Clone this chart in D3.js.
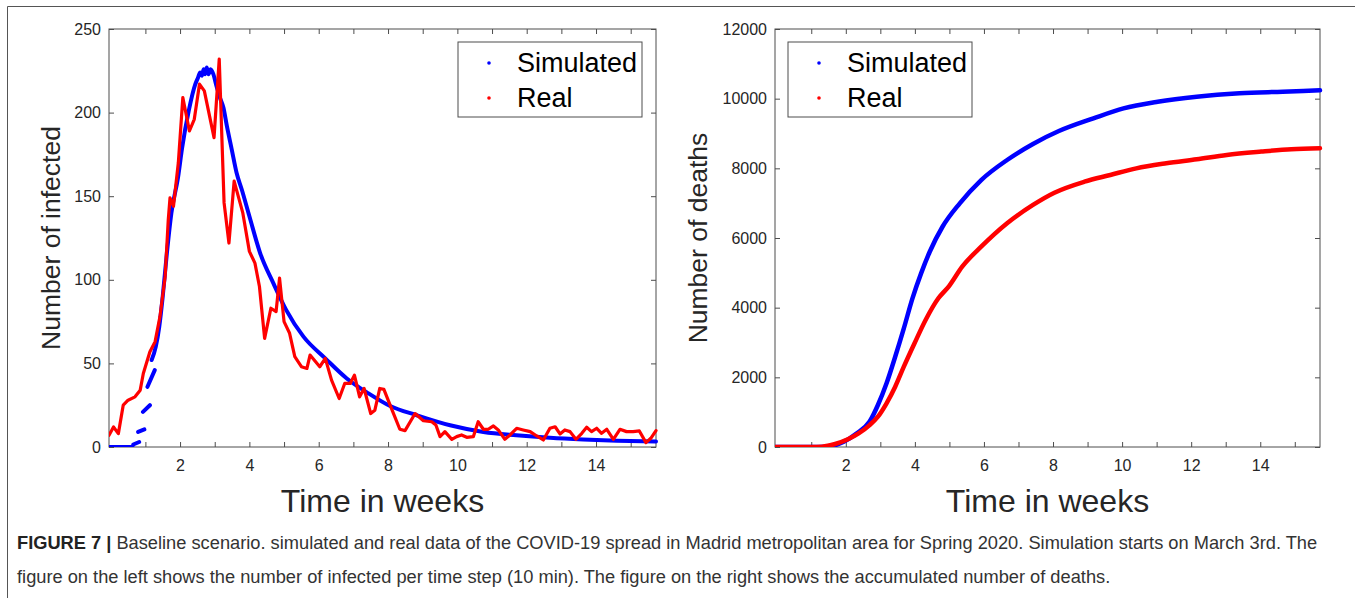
<!DOCTYPE html>
<html><head><meta charset="utf-8">
<script src="https://cdn.jsdelivr.net/npm/d3@7"></script>
<style>
html,body{margin:0;padding:0;background:#fff;}
svg{display:block;}
</style></head>
<body>
<svg id="fig" width="1355" height="598"></svg>
<script>
// ---------------- DATA ----------------
const xTicks = [1,2,3,4,5,6,7,8,9,10,11,12,13,14,15];
const xTickLabels = ["","2","","4","","6","","8","","10","","12","","14",""];
const infYTicks = [0,50,100,150,200,250];
const deathYTicks = [0,2000,4000,6000,8000,10000,12000];
const seriesNames = ["Simulated","Real"];

// Left: number of infected (simulated, null = gap between marker runs)
const infSim = [[-0.05,0],[0.63,0],null,[0.65,1.5],[0.82,3],null,[0.79,9],[0.97,10.5],null,
 [0.93,21],[1.13,25],null,[1.06,36],[1.27,46],null,
 [1.18,52],[1.3,60],[1.4,72],[1.5,90],[1.62,116],[1.75,140],[1.94,161],[2.06,179],[2.25,201],
 [2.44,217],[2.52,221],[2.58,224],[2.63,222],[2.68,226],[2.72,223],[2.77,227],[2.82,223],
 [2.88,226],[2.96,223],[3.05,216],[3.15,209],[3.25,203],[3.35,192],[3.49,178],[3.63,164],
 [3.78,154],[4.0,138],[4.31,116],[4.69,98],[5.06,82],[5.56,66],[6.19,53],[6.81,41],[7.44,32],
 [8.06,24.5],[8.83,19],[9.79,13],[10.75,9],[11.7,7],[12.67,5.5],[13.63,4.5],[14.6,3.8],[15.73,3.3]];

// Left: number of infected (real)
const infReal = [[-0.05,7],[0.08,12],[0.22,8],[0.36,25],[0.5,28],[0.7,30],[0.85,34],[0.94,44],
 [1.13,57],[1.28,63],[1.42,78],[1.57,102],[1.66,136],[1.71,149],[1.81,144],[1.95,170],[2.08,209],
 [2.27,189],[2.41,196],[2.56,217],[2.7,213],[2.98,185],[3.13,232],[3.27,146],[3.41,122],[3.56,159],
 [3.81,140],[4.0,117],[4.16,110],[4.29,96],[4.44,65],[4.62,83],[4.77,81],[4.87,101],[5.0,75],
 [5.16,68],[5.31,54],[5.5,48],[5.66,47],[5.75,55],[6.03,48],[6.19,53],[6.37,40],[6.59,29],
 [6.75,38],[6.91,38],[7.03,43],[7.18,30],[7.31,35],[7.5,20],[7.62,22],[7.76,35],[7.88,34.5],
 [8.1,23],[8.34,10.6],[8.49,9.8],[8.78,20],[9.02,15.7],[9.26,15.1],[9.38,13.2],[9.5,6.2],
 [9.64,9.2],[9.84,4.6],[9.98,6.2],[10.12,7.2],[10.27,5.8],[10.46,6.2],[10.6,15.1],[10.75,10.6],
 [10.89,10.6],[11.04,12.6],[11.18,10.2],[11.37,4.6],[11.52,7.2],[11.71,11.2],[11.9,10.2],
 [12.1,9.2],[12.29,6.6],[12.48,4.2],[12.67,11.2],[12.82,12.1],[12.96,7.8],[13.1,10.2],
 [13.25,9.2],[13.42,4.6],[13.59,8.2],[13.73,11.8],[13.87,9.2],[14.02,11.2],[14.16,8.2],
 [14.31,10.6],[14.5,4.6],[14.69,10.6],[14.88,9.2],[15.07,9.2],[15.25,9.6],[15.44,2.6],
 [15.58,5.2],[15.73,9.8]];

// Right: accumulated deaths
const deathSim = [[-0.05,0],[1.0,0],[1.44,10],[1.94,150],[2.31,390],[2.69,730],[2.93,1206],
 [3.18,1830],[3.43,2590],[3.68,3405],[3.93,4267],[4.18,4985],[4.43,5605],[4.8,6323],[5.3,6995],
 [5.92,7664],[6.67,8240],[7.42,8700],[8.17,9070],[9.17,9435],[10.04,9722],[11.03,9913],
 [12.16,10057],[13.4,10155],[14.65,10200],[15.73,10240]];
const deathReal = [[-0.05,0],[1.0,0],[1.31,10],[1.69,86],[2.06,221],[2.37,390],[2.69,630],
 [2.93,870],[3.18,1254],[3.43,1731],[3.68,2305],[3.99,2977],[4.31,3646],[4.68,4269],[4.99,4620],
 [5.37,5177],[5.92,5750],[6.67,6423],[7.42,6950],[8.04,7300],[8.91,7617],[9.66,7810],
 [10.41,8000],[11.28,8145],[12.16,8260],[13.03,8385],[14.03,8480],[14.9,8547],[15.73,8576]];

const caption1Bold = "FIGURE 7 |";
const caption1 = " Baseline scenario. simulated and real data of the COVID-19 spread in Madrid metropolitan area for Spring 2020. Simulation starts on March 3rd. The";
const caption2 = "figure on the left shows the number of infected per time step (10 min). The figure on the right shows the accumulated number of deaths.";

// ---------------- DRAW ----------------
const svg = d3.select("#fig");
const FONT = "Arial, 'Liberation Sans', Helvetica, sans-serif";
const axisColor = "#4d4d4d", textColor = "#262626";
const BLUE = "#0000ff", RED = "#ff0000";

// figure frame
svg.append("line").attr("x1",7.5).attr("x2",1355).attr("y1",6.5).attr("y2",6.5)
  .attr("stroke","#555").attr("stroke-width",1);
svg.append("line").attr("x1",7.5).attr("x2",7.5).attr("y1",6.5).attr("y2",598)
  .attr("stroke","#555").attr("stroke-width",1);

function panel(opts){
  const {x0,x1,y0,y1,yDomain,yTicks,ylabel,ylabelX,sim,real,legendX,simW,realW,id,realCurve} = opts;
  const x = d3.scaleLinear().domain([-0.05,15.73]).range([x0,x1]);
  const y = d3.scaleLinear().domain(yDomain).range([y1,y0]);
  const g = svg.append("g");

  g.append("clipPath").attr("id",id).append("rect")
    .attr("x",x0).attr("y",y0-3).attr("width",x1-x0+3).attr("height",y1-y0+3);

  const tickLen = 5;
  const fmt = d3.format("d");
  const bottom = g.append("g").attr("transform",`translate(0,${y1})`)
    .call(d3.axisBottom(x).tickValues(xTicks).tickSize(-tickLen).tickSizeOuter(0)
      .tickFormat((d,i)=>xTickLabels[i]).tickPadding(13));
  const top = g.append("g").attr("transform",`translate(0,${y0})`)
    .call(d3.axisTop(x).tickValues(xTicks).tickSize(-tickLen).tickSizeOuter(0).tickFormat(""));
  const left = g.append("g").attr("transform",`translate(${x0},0)`)
    .call(d3.axisLeft(y).tickValues(yTicks).tickSize(-tickLen).tickSizeOuter(0)
      .tickFormat(fmt).tickPadding(8));
  const right = g.append("g").attr("transform",`translate(${x1},0)`)
    .call(d3.axisRight(y).tickValues(yTicks).tickSize(-tickLen).tickSizeOuter(0).tickFormat(""));
  [bottom,top,left,right].forEach(a=>{
    a.select(".domain").remove();
    a.selectAll(".tick line").attr("stroke",axisColor).attr("stroke-width",1);
    a.selectAll(".tick text").attr("fill",textColor).style("font-family",FONT).style("font-size","16px");
  });
  g.append("rect").attr("x",x0).attr("y",y0).attr("width",x1-x0).attr("height",y1-y0)
    .attr("fill","none").attr("stroke",axisColor).attr("stroke-width",1);

  const simLine = d3.line().defined(d=>d!==null).x(d=>x(d[0])).y(d=>y(d[1])).curve(d3.curveMonotoneX);
  const realLine = d3.line().defined(d=>d!==null).x(d=>x(d[0])).y(d=>y(d[1])).curve(realCurve);
  const lines = g.append("g").attr("clip-path",`url(#${id})`);
  lines.append("path").attr("d",simLine(sim)).attr("fill","none").attr("stroke",BLUE)
    .attr("stroke-width",simW).attr("stroke-linejoin","round").attr("stroke-linecap","round");
  lines.append("path").attr("d",realLine(real)).attr("fill","none").attr("stroke",RED)
    .attr("stroke-width",realW).attr("stroke-linejoin","round").attr("stroke-linecap","round");

  g.append("text").attr("x",(x0+x1)/2).attr("y",512).attr("text-anchor","middle")
    .attr("fill",textColor).style("font-family",FONT).style("font-size","32px").text("Time in weeks");
  g.append("text").attr("transform",`translate(${ylabelX},${(y0+y1)/2}) rotate(-90)`)
    .attr("text-anchor","middle").attr("dominant-baseline","middle")
    .attr("fill",textColor).style("font-family",FONT).style("font-size","26.5px").text(ylabel);

  const lg = g.append("g");
  lg.append("rect").attr("x",legendX).attr("y",42).attr("width",184).attr("height",75)
    .attr("fill","#fff").attr("stroke",axisColor).attr("stroke-width",1);
  [BLUE,RED].forEach((c,i)=>{
    const cy = 63 + i*35;
    lg.append("circle").attr("cx",legendX+31).attr("cy",cy).attr("r",1.8).attr("fill",c);
    lg.append("text").attr("x",legendX+59).attr("y",cy).attr("dominant-baseline","central")
      .attr("fill","#000").style("font-family",FONT).style("font-size","27px").text(seriesNames[i]);
  });
}

panel({id:"c1",x0:109,x1:656,y0:29,y1:447,yDomain:[0,250],yTicks:infYTicks,
  ylabel:"Number of infected",ylabelX:53,sim:infSim,real:infReal,legendX:458,simW:4,realW:3.2,
  realCurve:d3.curveLinear});
panel({id:"c2",x0:775,x1:1320,y0:29,y1:447,yDomain:[0,12000],yTicks:deathYTicks,
  ylabel:"Number of deaths",ylabelX:700,sim:deathSim,real:deathReal,legendX:788,simW:4.5,realW:4.5,
  realCurve:d3.curveMonotoneX});

// caption
const capFont = "Arial, 'Liberation Sans', Helvetica, sans-serif";
const t1 = svg.append("text").attr("x",17).attr("y",549).attr("fill","#333")
  .style("font-family",capFont).style("font-size","16px");
t1.append("tspan").style("font-weight","bold").attr("fill","#222").text(caption1Bold);
t1.append("tspan").text(caption1);
const t2 = svg.append("text").attr("x",17).attr("y",583).attr("fill","#333")
  .style("font-family",capFont).style("font-size","16px").text(caption2);
const w1 = t1.node().getComputedTextLength();
const fs = 16 * 1301 / w1;
t1.style("font-size", fs+"px");
t2.style("font-size", fs+"px");
</script>
</body></html>
